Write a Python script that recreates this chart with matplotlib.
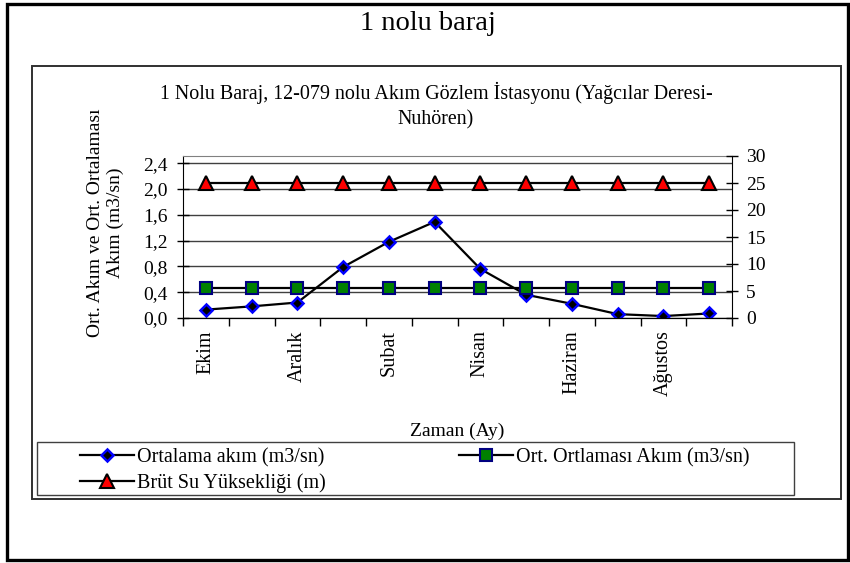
import numpy as np
import matplotlib
matplotlib.use("Agg")
import matplotlib.pyplot as plt
from matplotlib.patches import Rectangle

plt.rcParams['font.family'] = ['Liberation Serif', 'DejaVu Serif']

W, H = 850, 563

months = ['Ekim', 'Kasım', 'Aralık', 'Ocak', 'Subat', 'Mart',
          'Nisan', 'Mayıs', 'Haziran', 'Temmuz', 'Ağustos', 'Eylül']
ortalama_akim = [0.13, 0.18, 0.24, 0.79, 1.18, 1.49, 0.76, 0.36, 0.22, 0.06, 0.03, 0.07]
ort_ortalamasi = [0.46] * 12
brut_su = [25] * 12

left_ticks = [0.0, 0.4, 0.8, 1.2, 1.6, 2.0, 2.4]
right_ticks = [0, 5, 10, 15, 20, 25, 30]


def fx(px):
    return px / W


def fy(py):
    return 1 - py / H


fig = plt.figure(figsize=(W / 100, H / 100), dpi=100)

# frames: outer border, chart area, legend box
fig.patches.append(Rectangle((fx(7), fy(560)), fx(848) - fx(7), fy(4) - fy(560),
                             transform=fig.transFigure, fill=False, lw=2.4, ec='black'))
fig.patches.append(Rectangle((fx(32), fy(499)), fx(841) - fx(32), fy(66) - fy(499),
                             transform=fig.transFigure, fill=False, lw=1.4, ec='#303030'))
fig.patches.append(Rectangle((fx(37), fy(495)), fx(794) - fx(37), fy(442) - fy(495),
                             transform=fig.transFigure, fill=False, lw=1.0, ec='#404040'))

fig.text(fx(428), fy(23), '1 nolu baraj', ha='center', va='center', fontsize=20.5)
fig.text(fx(436), fy(106),
         '1 Nolu Baraj, 12-079 nolu Akım Gözlem İstasyonu (Yağcılar Deresi-\nNuhören)',
         ha='center', va='center', fontsize=14.4, linespacing=1.45)

ax = fig.add_axes([fx(183), fy(318), fx(732) - fx(183), fy(156) - fy(318)])
x = np.arange(1, 13)

ax.set_xlim(0.5, 12.5)
ax.set_ylim(0, 2.51)
ax.set_yticks(left_ticks)
ax.set_yticklabels([f'{v:.1f}'.replace('.', ',') for v in left_ticks])
ax.grid(axis='y', color='#404040', lw=1.0)
ax.set_axisbelow(True)

# ticks on category boundaries, labels on every other month
ax.set_xticks(np.arange(0.5, 13, 1))
ax.set_xticklabels([])
ax.set_xticks(x[::2], minor=True)
ax.set_xticklabels(months[::2], minor=True, rotation=90, fontsize=14.5)
ax.tick_params(axis='x', which='major', direction='out', length=6, width=1)
ax.tick_params(axis='x', which='minor', length=0, pad=9)
ax.tick_params(axis='y', direction='inout', length=8, width=1, labelsize=14, pad=7)

ax.spines['top'].set_color('#808080')
ax.spines['right'].set_visible(False)

l1, = ax.plot(x, ortalama_akim, color='black', lw=1.6, marker='D', ms=6.5,
              mfc='black', mec='#0000FF', mew=1.8, label='Ortalama akım (m3/sn)')
l2, = ax.plot(x, ort_ortalamasi, color='black', lw=1.6, marker='s', ms=9,
              mfc='#008000', mec='#000080', mew=1.5, label='Ort. Ortlaması Akım (m3/sn)')

ax2 = ax.twinx()
ax2.set_ylim(0, 30)
ax2.set_yticks(right_ticks)
ax2.tick_params(axis='y', direction='inout', length=8, width=1, labelsize=14, pad=6)
ax2.spines['top'].set_visible(False)
ax2.spines['left'].set_visible(False)
l3, = ax2.plot(x, brut_su, color='black', lw=1.6, marker='^', ms=10.5,
               mfc='#FF0000', mec='black', mew=1.5, label='Brüt Su Yüksekliği (m)')

ax.set_ylabel('Ort. Akım ve Ort. Ortalaması\nAkım (m3/sn)', fontsize=14, linespacing=1.15)
ax.yaxis.set_label_coords(-0.108, 0.585)
ax.set_xlabel('Zaman (Ay)', fontsize=14)
ax.xaxis.set_label_coords(0.5, -0.645)

fig.legend(handles=[l1, l3, l2], loc='upper left', bbox_to_anchor=(fx(80), fy(448)),
           ncol=2, frameon=False, fontsize=14.5, handlelength=2.7, handletextpad=0.15,
           columnspacing=6.6, borderpad=0, borderaxespad=0, labelspacing=0.3)

fig.savefig('out.png', dpi=100)
